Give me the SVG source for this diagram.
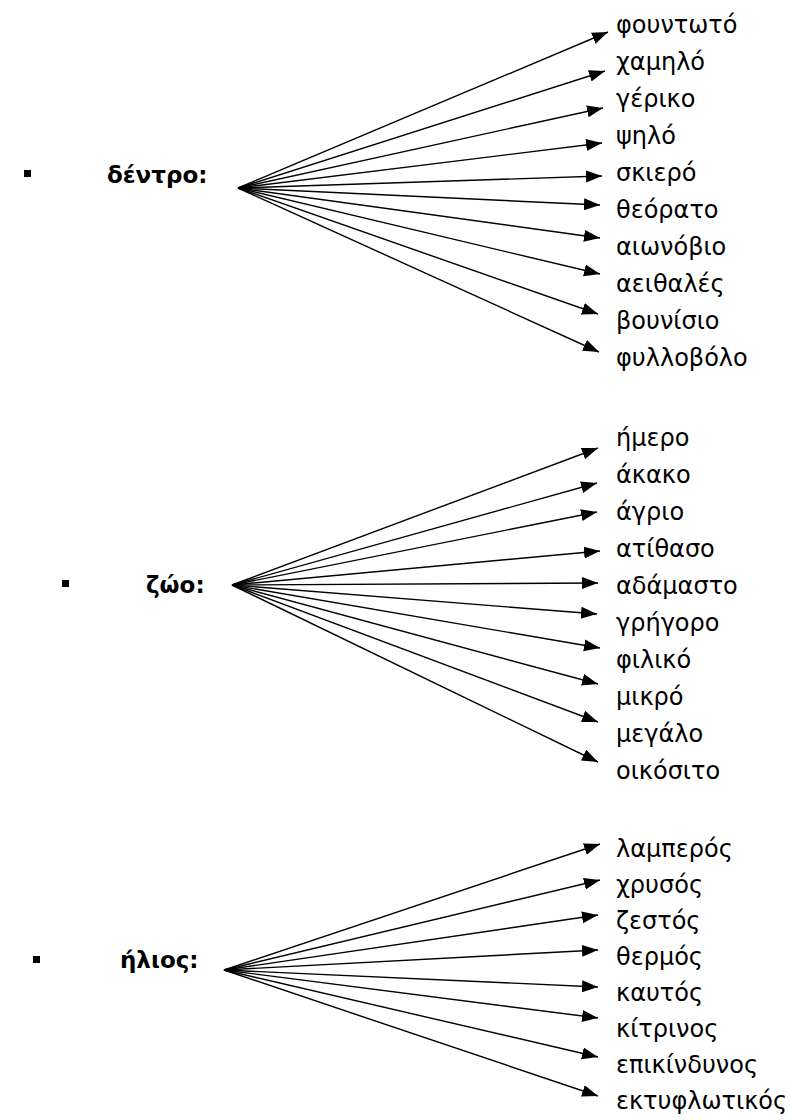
<svg xmlns="http://www.w3.org/2000/svg" width="790" height="1120" viewBox="0 0 790 1120">
<style>
.w{font-family:"DejaVu Sans","Noto Sans",sans-serif;font-size:24px;fill:#000}
.l{font-family:"DejaVu Sans","Noto Sans",sans-serif;font-size:23px;font-weight:bold;fill:#000}
.c line{stroke:#000;stroke-width:1.4;marker-end:url(#ah)}
.b{fill:#000}
</style>
<defs>
<marker id="ah" markerUnits="userSpaceOnUse" markerWidth="17" markerHeight="13" refX="16" refY="6" orient="auto">
<path d="M0,0 L16,6 L0,12 Z" fill="#000"/>
</marker>
</defs>
<rect width="790" height="1120" fill="#fff"/>
<g id="label-dentro"><rect class="b" x="24" y="170" width="7" height="7"/><text class="l" x="107" y="183">δέντρο:</text></g>
<g id="label-zoo"><rect class="b" x="62" y="580" width="7" height="7"/><text class="l" x="146" y="593">ζώο:</text></g>
<g id="label-ilios"><rect class="b" x="33" y="956" width="7" height="7"/><text class="l" x="120" y="968">ήλιος:</text></g>
<g class="c" id="connectors">
<line x1="238" y1="188" x2="608" y2="32"/>
<line x1="238" y1="188" x2="605" y2="71"/>
<line x1="238" y1="188" x2="603" y2="108"/>
<line x1="238" y1="188" x2="602" y2="143"/>
<line x1="238" y1="188" x2="602" y2="176"/>
<line x1="238" y1="188" x2="600" y2="205"/>
<line x1="238" y1="188" x2="600" y2="238"/>
<line x1="238" y1="188" x2="600" y2="274"/>
<line x1="238" y1="188" x2="598" y2="314"/>
<line x1="238" y1="188" x2="599" y2="352"/>
<line x1="232" y1="585" x2="598" y2="448"/>
<line x1="232" y1="585" x2="597" y2="483"/>
<line x1="232" y1="585" x2="597" y2="512"/>
<line x1="232" y1="585" x2="600" y2="551"/>
<line x1="232" y1="585" x2="598" y2="583"/>
<line x1="232" y1="585" x2="597" y2="614"/>
<line x1="232" y1="585" x2="600" y2="648"/>
<line x1="232" y1="585" x2="598" y2="684"/>
<line x1="232" y1="585" x2="598" y2="722"/>
<line x1="232" y1="585" x2="598" y2="762"/>
<line x1="224" y1="970" x2="600" y2="844"/>
<line x1="224" y1="970" x2="600" y2="880"/>
<line x1="224" y1="970" x2="598" y2="915"/>
<line x1="224" y1="970" x2="598" y2="950"/>
<line x1="224" y1="970" x2="598" y2="987"/>
<line x1="224" y1="970" x2="598" y2="1018"/>
<line x1="224" y1="970" x2="598" y2="1057"/>
<line x1="224" y1="970" x2="598" y2="1096"/>
</g>
<g id="words-dentro">
<text class="w" x="616" y="33">φουντωτό</text>
<text class="w" x="616" y="70">χαμηλό</text>
<text class="w" x="616" y="107">γέρικο</text>
<text class="w" x="616" y="144">ψηλό</text>
<text class="w" x="616" y="181">σκιερό</text>
<text class="w" x="616" y="218">θεόρατο</text>
<text class="w" x="616" y="255">αιωνόβιο</text>
<text class="w" x="616" y="292">αειθαλές</text>
<text class="w" x="616" y="329">βουνίσιο</text>
<text class="w" x="616" y="366">φυλλοβόλο</text>
</g>
<g id="words-zoo">
<text class="w" x="616" y="446">ήμερο</text>
<text class="w" x="616" y="483">άκακο</text>
<text class="w" x="616" y="520">άγριο</text>
<text class="w" x="616" y="557">ατίθασο</text>
<text class="w" x="616" y="594">αδάμαστο</text>
<text class="w" x="616" y="631">γρήγορο</text>
<text class="w" x="616" y="668">φιλικό</text>
<text class="w" x="616" y="705">μικρό</text>
<text class="w" x="616" y="742">μεγάλο</text>
<text class="w" x="616" y="779">οικόσιτο</text>
</g>
<g id="words-ilios">
<text class="w" x="616" y="857">λαμπερός</text>
<text class="w" x="616" y="893">χρυσός</text>
<text class="w" x="616" y="929">ζεστός</text>
<text class="w" x="616" y="965">θερμός</text>
<text class="w" x="616" y="1001">καυτός</text>
<text class="w" x="616" y="1037">κίτρινος</text>
<text class="w" x="616" y="1073">επικίνδυνος</text>
<text class="w" x="616" y="1109">εκτυφλωτικός</text>
</g>
</svg>
